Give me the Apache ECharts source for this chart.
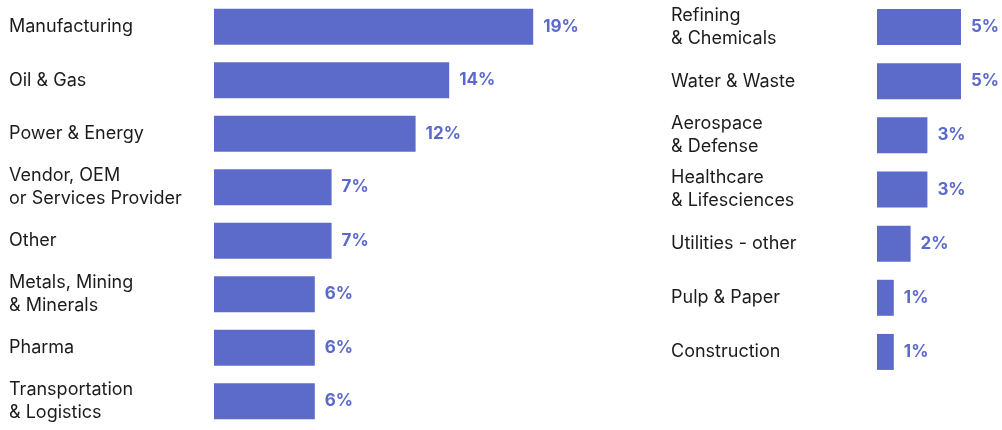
<!DOCTYPE html>
<html>
<head>
<meta charset="utf-8">
<script src="https://cdn.jsdelivr.net/npm/echarts@6/dist/echarts.min.js"></script>
<style>
  html, body { margin: 0; padding: 0; background: #ffffff; }
  #chart { width: 1002px; height: 430px; }
</style>
</head>
<body>
<div id="chart"></div>
<script>
// Industry shares, split over two columns
const leftCategories = [
  'Manufacturing',
  'Oil & Gas',
  'Power & Energy',
  'Vendor, OEM\nor Services Provider',
  'Other',
  'Metals, Mining\n& Minerals',
  'Pharma',
  'Transportation\n& Logistics'
];
const leftValues = [19, 14, 12, 7, 7, 6, 6, 6];

const rightCategories = [
  'Refining\n& Chemicals',
  'Water & Waste',
  'Aerospace\n& Defense',
  'Healthcare\n& Lifesciences',
  'Utilities - other',
  'Pulp & Paper',
  'Construction'
];
const rightValues = [5, 5, 3, 3, 2, 1, 1];

const FONT = 'Inter, "Noto Sans", sans-serif';
const BAR_COLOR = '#5c6bc9';
const LABEL_COLOR = '#5b69cc';
const PX_PER_UNIT = 16.8;

const chart = echarts.init(document.getElementById('chart'), null, { renderer: 'canvas' });

function catAxis(gridIndex, data, margin) {
  return {
    type: 'category',
    gridIndex: gridIndex,
    data: data,
    inverse: true,
    axisLine: { show: false },
    axisTick: { show: false },
    axisLabel: {
      align: 'left',
      margin: margin,
      color: '#1c1c1c',
      fontFamily: FONT,
      fontSize: 18,
      lineHeight: 23
    }
  };
}

function valAxis(gridIndex, max) {
  return {
    type: 'value',
    gridIndex: gridIndex,
    min: 0,
    max: max,
    show: false,
    splitLine: { show: false }
  };
}

function barSeries(idx, values) {
  return {
    type: 'bar',
    xAxisIndex: idx,
    yAxisIndex: idx,
    data: values,
    barWidth: 36,
    itemStyle: { color: BAR_COLOR },
    label: {
      show: true,
      position: 'right',
      distance: 10,
      formatter: '{c}%',
      color: LABEL_COLOR,
      fontFamily: FONT,
      fontWeight: 'bold',
      fontSize: 17
    },
    silent: true,
    animation: false
  };
}

chart.setOption({
  backgroundColor: '#ffffff',
  animation: false,
  grid: [
    { left: 214, top: -4, width: 20 * PX_PER_UNIT, height: 432 },
    { left: 877, top: 0, width: 7 * PX_PER_UNIT, height: 379 }
  ],
  xAxis: [valAxis(0, 20), valAxis(1, 7)],
  yAxis: [catAxis(0, leftCategories, 205), catAxis(1, rightCategories, 206)],
  series: [barSeries(0, leftValues), barSeries(1, rightValues)]
});
</script>
</body>
</html>
